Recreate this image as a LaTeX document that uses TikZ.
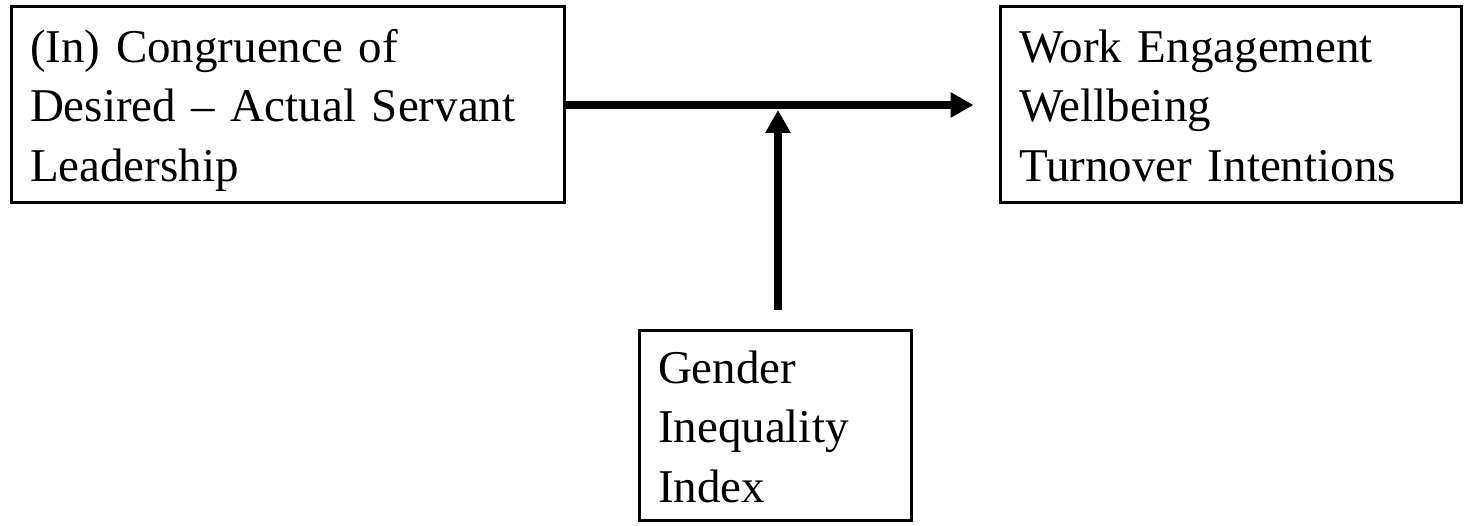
\documentclass[tikz,border=0pt]{standalone}
\usepackage{fontspec}
\setmainfont{Liberation Serif}
\usetikzlibrary{arrows.meta}
\tikzset{
  varbox/.style={draw=black, line width=3pt, rectangle, inner xsep=19pt, inner ysep=0pt,
    align=left, font=\fontsize{47}{59.5}\selectfont},
  arr/.style={line width=7.5pt, -{Triangle[length=23pt,width=24pt]}}
}
\newcommand{\topstrut}{\rule{0pt}{44pt}}
\newcommand{\botstrut}{\rule[-10pt]{0pt}{10pt}}
\begin{document}
\begin{tikzpicture}[x=1pt,y=1pt]
\useasboundingbox (0,0) rectangle (1467,526);
\node[varbox, text width=515pt, minimum height=196pt] (cong) at (287.5,421)
  {\topstrut(In) Congruence of\\Desired – Actual Servant\\Leadership\botstrut};
\node[varbox, text width=423pt, minimum height=196pt] (out) at (1230.5,421)
  {\topstrut Work Engagement\\Wellbeing\\Turnover Intentions\botstrut};
\node[varbox, text width=234pt, minimum height=190pt] (gii) at (775,100)
  {\topstrut Gender\\Inequality\\Index\botstrut};
\coordinate (modtail) at (778,216);
\draw[arr, shorten >=25pt] (cong.east) -- (out.west);
\draw[arr, shorten >=5pt] (modtail) -- (modtail |- cong.east);
\end{tikzpicture}
\end{document}
